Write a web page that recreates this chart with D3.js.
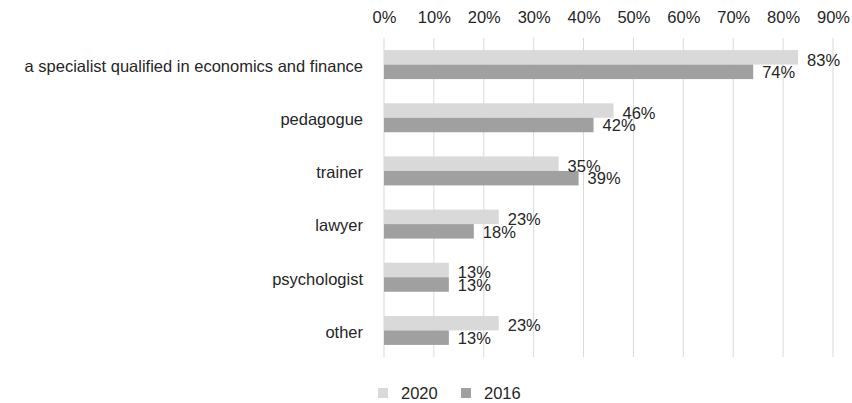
<!DOCTYPE html>
<html>
<head>
<meta charset="utf-8">
<script src="https://cdn.jsdelivr.net/npm/d3@7"></script>
<style>
  body { margin: 0; background: #fff; }
  svg { display: block; font-family: "Liberation Sans", Arial, sans-serif; }
</style>
</head>
<body>
<svg id="chart" width="852" height="403"></svg>
<script>
// Roles of specialists, share of responses
const categories = [
  "a specialist qualified in economics and finance",
  "pedagogue",
  "trainer",
  "lawyer",
  "psychologist",
  "other"
];
const values2020 = [83, 46, 35, 23, 13, 23];
const values2016 = [74, 42, 39, 18, 13, 13];
const seriesNames = ["2020", "2016"];
const xTicks = [0, 10, 20, 30, 40, 50, 60, 70, 80, 90];

const colors = { "2020": "#d9d9d9", "2016": "#a0a0a0" };
const textColor = "#262626";
const fontSize = 16.5;

const svg = d3.select("#chart");
const W = 852, H = 403;
const plot = { left: 384, right: 833, top: 38, bottom: 357 };

const x = d3.scaleLinear().domain([0, 90]).range([plot.left, plot.right]);
const y = d3.scaleBand().domain(categories).range([plot.top, plot.bottom]).paddingInner(0.455).paddingOuter(0.2275);
const ySub = d3.scaleBand().domain(seriesNames).range([0, y.bandwidth()]);

// vertical gridlines
svg.append("g")
  .selectAll("line")
  .data(xTicks)
  .join("line")
  .attr("x1", d => x(d)).attr("x2", d => x(d))
  .attr("y1", plot.top).attr("y2", plot.bottom)
  .attr("stroke", "#d9d9d9").attr("stroke-width", 1);

// top axis labels
const xAxis = d3.axisTop(x).tickValues(xTicks).tickFormat(d => d + "%").tickSize(0).tickPadding(0);
const gx = svg.append("g").attr("transform", `translate(0, 23)`).call(xAxis);
gx.select(".domain").remove();
gx.selectAll("text").attr("font-size", fontSize).attr("fill", textColor)
  .attr("font-family", "Liberation Sans, Arial, sans-serif");

// category labels
const yAxis = d3.axisLeft(y).tickSize(0).tickPadding(0);
const gy = svg.append("g").attr("transform", `translate(363, 2)`).call(yAxis);
gy.select(".domain").remove();
gy.selectAll("text").attr("font-size", fontSize).attr("fill", textColor)
  .attr("font-family", "Liberation Sans, Arial, sans-serif");

const rows = categories.map((c, i) => ({ cat: c, "2020": values2020[i], "2016": values2016[i] }));

const groups = svg.append("g").selectAll("g")
  .data(rows)
  .join("g")
  .attr("transform", d => `translate(0, ${y(d.cat)})`);

groups.selectAll("rect")
  .data(d => seriesNames.map(s => ({ s, v: d[s] })))
  .join("rect")
  .attr("x", x(0))
  .attr("y", d => ySub(d.s))
  .attr("width", d => x(d.v) - x(0))
  .attr("height", ySub.bandwidth())
  .attr("fill", d => colors[d.s]);

// value labels at bar ends
groups.selectAll("text.val")
  .data(d => seriesNames.map(s => ({ s, v: d[s] })))
  .join("text")
  .attr("class", "val")
  .attr("x", d => Math.min(x(d.v) + 9, W - 42))
  .attr("y", d => ySub(d.s) + ySub.bandwidth() / 2 + (d.s === "2020" ? 2.5 : 0.5))
  .attr("dy", "0.35em")
  .attr("font-size", fontSize)
  .attr("fill", textColor)
  .text(d => d.v + "%");

// legend
const legend = svg.append("g").attr("transform", "translate(378, 393)");
const items = legend.selectAll("g")
  .data(seriesNames)
  .join("g")
  .attr("transform", (d, i) => `translate(${i * 83}, 0)`);
items.append("rect")
  .attr("x", 0).attr("y", -5).attr("width", 10).attr("height", 10)
  .attr("fill", d => colors[d]);
items.append("text")
  .attr("x", 23).attr("y", 0).attr("dy", "0.35em")
  .attr("font-size", fontSize).attr("fill", textColor)
  .text(d => d);
</script>
</body>
</html>
